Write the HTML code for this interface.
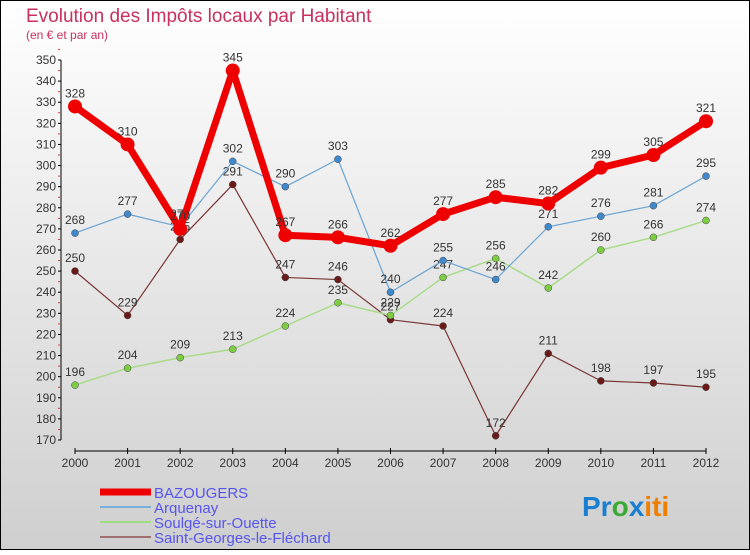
<!DOCTYPE html>
<html><head><meta charset="utf-8"><style>
body{margin:0;width:750px;height:550px;overflow:hidden;font-family:"Liberation Sans",sans-serif}
</style></head><body>
<svg id="c" width="750" height="550" xmlns="http://www.w3.org/2000/svg">
<defs><linearGradient id="bg" x1="0" y1="0" x2="0" y2="1"><stop offset="0" stop-color="#ffffff"/><stop offset="1" stop-color="#cfcfcf"/></linearGradient></defs>
<rect x="0.5" y="0.5" width="749" height="549" fill="url(#bg)" stroke="#000"/>
<text x="26" y="22" font-size="19" fill="#c8305e">Evolution des Impôts locaux par Habitant</text>
<text x="26" y="39" font-size="12" fill="#c8305e">(en € et par an)</text>
<g id="axes"></g><g id="series"></g><g id="legend"></g>
<text x="582" y="516" font-size="28" font-weight="bold"><tspan fill="#1a7fd0">Pr</tspan><tspan fill="#3aaa35">o</tspan><tspan fill="#1a7fd0">x</tspan><tspan fill="#f07f00">iti</tspan></text>
</svg>
<script>
const years=["2000","2001","2002","2003","2004","2005","2006","2007","2008","2009","2010","2011","2012"];
const yTicks=[170,180,190,200,210,220,230,240,250,260,270,280,290,300,310,320,330,340,350];
const bazougers=[328,310,270,345,267,266,262,277,285,282,299,305,321];
const arquenay=[268,277,271,302,290,303,240,255,246,271,276,281,295];
const soulge=[196,204,209,213,224,235,229,247,256,242,260,266,274];
const saintGeorges=[250,229,265,291,247,246,227,224,172,211,198,197,195];
const NS="http://www.w3.org/2000/svg";
function X(i){return 75+i*(706-75)/12;}
function Y(v){return 60+(350-v)*380/180;}
function mk(t,a,p){const e=document.createElementNS(NS,t);for(const k in a)e.setAttribute(k,a[k]);p.appendChild(e);return e;}
const ax=document.getElementById('axes');
const ya=mk('line',{x1:61,y1:Y(350),x2:61,y2:Y(170),stroke:'#000'},ax);


yTicks.forEach(v=>{
  mk('line',{x1:58,y1:Y(v),x2:61,y2:Y(v),stroke:'#000'},ax);
  mk('line',{x1:58,y1:Y(v+5),x2:60,y2:Y(v+5),stroke:'#e04040'},ax);
  const t=mk('text',{x:56,y:Y(v)+4,'font-size':12,fill:'#333','text-anchor':'end'},ax);t.textContent=v;
  
  
});
const xa=mk('line',{x1:X(0),y1:451,x2:X(12),y2:451,stroke:'#000'},ax);


years.forEach((y,i)=>{
  mk('line',{x1:X(i),y1:448,x2:X(i),y2:454,stroke:'#000'},ax);
  const t=mk('text',{x:X(i),y:467,'font-size':12,fill:'#333','text-anchor':'middle'},ax);t.textContent=y;
  
  
});
const sg=document.getElementById('series');
function series(name,vals,color,w,r,dot,lab){
  const g=mk('g',{},sg);
  
  
  mk('polyline',{points:vals.map((v,i)=>X(i)+','+Y(v)).join(' '),fill:'none',stroke:color,'stroke-width':w,'stroke-linejoin':'round'},g);
  vals.forEach((v,i)=>{
    const c=mk('circle',{cx:X(i),cy:Y(v),r:r,fill:dot,stroke:color==dot?'none':'#444','stroke-width':0.5},g);
    
    
    const t=mk('text',{x:X(i),y:Y(v)-9,'font-size':12,fill:'#333','text-anchor':'middle'},g);t.textContent=v;
  });
}
series('series-saint-georges',saintGeorges,'#7a3535',1.2,3.5,'#6b1a1a');
series('series-soulge',soulge,'#a8dc88',1.5,3.5,'#7ccc44');
series('series-arquenay',arquenay,'#6aa4d4',1.2,3.5,'#3f88cc');
series('series-bazougers',bazougers,'#ee0000',7,7,'#ee0000');
const lg=document.getElementById('legend');
const items=[['BAZOUGERS','#ee0000',7],['Arquenay','#7aaedb',2],['Soulgé-sur-Ouette','#a0dc80',2],['Saint-Georges-le-Fléchard','#a07070',2]];
items.forEach((it,k)=>{
  const y=492+k*15;
  const g=mk('g',{},lg);
  
  
  mk('line',{x1:100,y1:y,x2:151,y2:y,stroke:it[1],'stroke-width':it[2]},g);
  const t=mk('text',{x:154,y:y+6,'font-size':15,fill:'#5555ee'},g);t.textContent=it[0];
});
</script>
</body></html>
